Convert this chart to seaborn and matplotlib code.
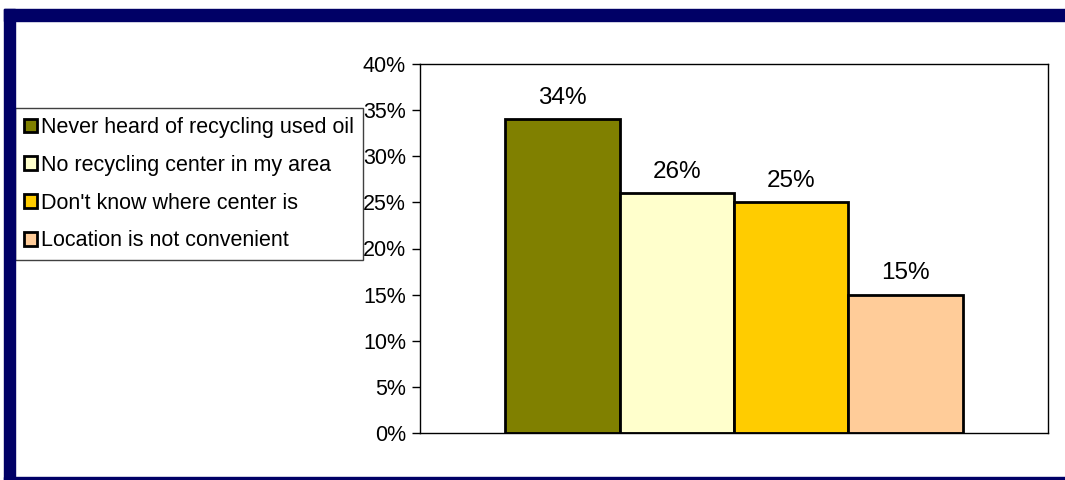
import matplotlib
matplotlib.use("Agg")
import matplotlib.pyplot as plt
import seaborn as sns
import pandas as pd
from matplotlib.patches import Rectangle
from matplotlib.ticker import FuncFormatter, MultipleLocator

categories = ["Never heard of recycling used oil",
              "No recycling center in my area",
              "Don't know where center is",
              "Location is not convenient"]
values = [0.34, 0.26, 0.25, 0.15]
value_labels = ["34%", "26%", "25%", "15%"]
colors = ["#808000", "#FFFFCC", "#FFCC00", "#FFCC99"]

sns.set_theme(style="white")
plt.rcParams['font.family'] = ['Liberation Sans', 'DejaVu Sans']
FS = 15.5
FS_BAR = 17.5

df = pd.DataFrame({"group": [""] * len(categories), "reason": categories, "share": values})

fig = plt.figure(figsize=(10.65, 4.8), dpi=100)
fig.patch.set_facecolor("white")
ax = fig.add_axes([420/1065, 1 - 433/480, (1048 - 420)/1065, (433 - 64)/480])

sns.barplot(data=df, x="group", y="share", hue="reason", hue_order=categories,
            palette=colors, width=0.728, edgecolor="black", linewidth=2,
            saturation=1, ax=ax, legend=True)

for cont, lab in zip(ax.containers, value_labels):
    ax.bar_label(cont, labels=[lab], padding=7.5, fontsize=FS_BAR, color="black")

ax.set_ylim(0, 0.40)
ax.yaxis.set_major_locator(MultipleLocator(0.05))
ax.yaxis.set_major_formatter(FuncFormatter(lambda v, p: f"{v*100:.0f}%"))
ax.set_xticks([])
ax.set_xlabel("")
ax.set_ylabel("")
ax.tick_params(axis="y", direction="out", length=6, width=1, color="black",
               labelsize=FS, labelcolor="black", pad=4, left=True)
for s in ax.spines.values():
    s.set_visible(True)
    s.set_color("black")
    s.set_linewidth(1)

handles, labels = ax.get_legend_handles_labels()
ax.get_legend().remove()
leg = fig.legend(handles, labels, loc="upper left",
                 bbox_to_anchor=(15/1065, 1 - 108/480), bbox_transform=fig.transFigure,
                 fontsize=FS, frameon=True, fancybox=False, shadow=False,
                 handlelength=0.6, handleheight=0.6, handletextpad=0.2,
                 labelspacing=0.78, borderpad=0.42, borderaxespad=0)
leg.get_frame().set_edgecolor("#404040")
leg.get_frame().set_linewidth(1)
leg.get_frame().set_alpha(1)
for t in leg.get_texts():
    t.set_color("black")

navy = "#000066"
fig.patches.append(Rectangle((4/1065, 0), (15 - 4)/1065, (480 - 9)/480,
                             transform=fig.transFigure, color=navy, zorder=10))
fig.patches.append(Rectangle((4/1065, 1 - 21/480), 1, 12/480,
                             transform=fig.transFigure, color=navy, zorder=10))
fig.patches.append(Rectangle((4/1065, 0), 1, 3/480,
                             transform=fig.transFigure, color=navy, zorder=10))

fig.savefig("out.png", dpi=100)
